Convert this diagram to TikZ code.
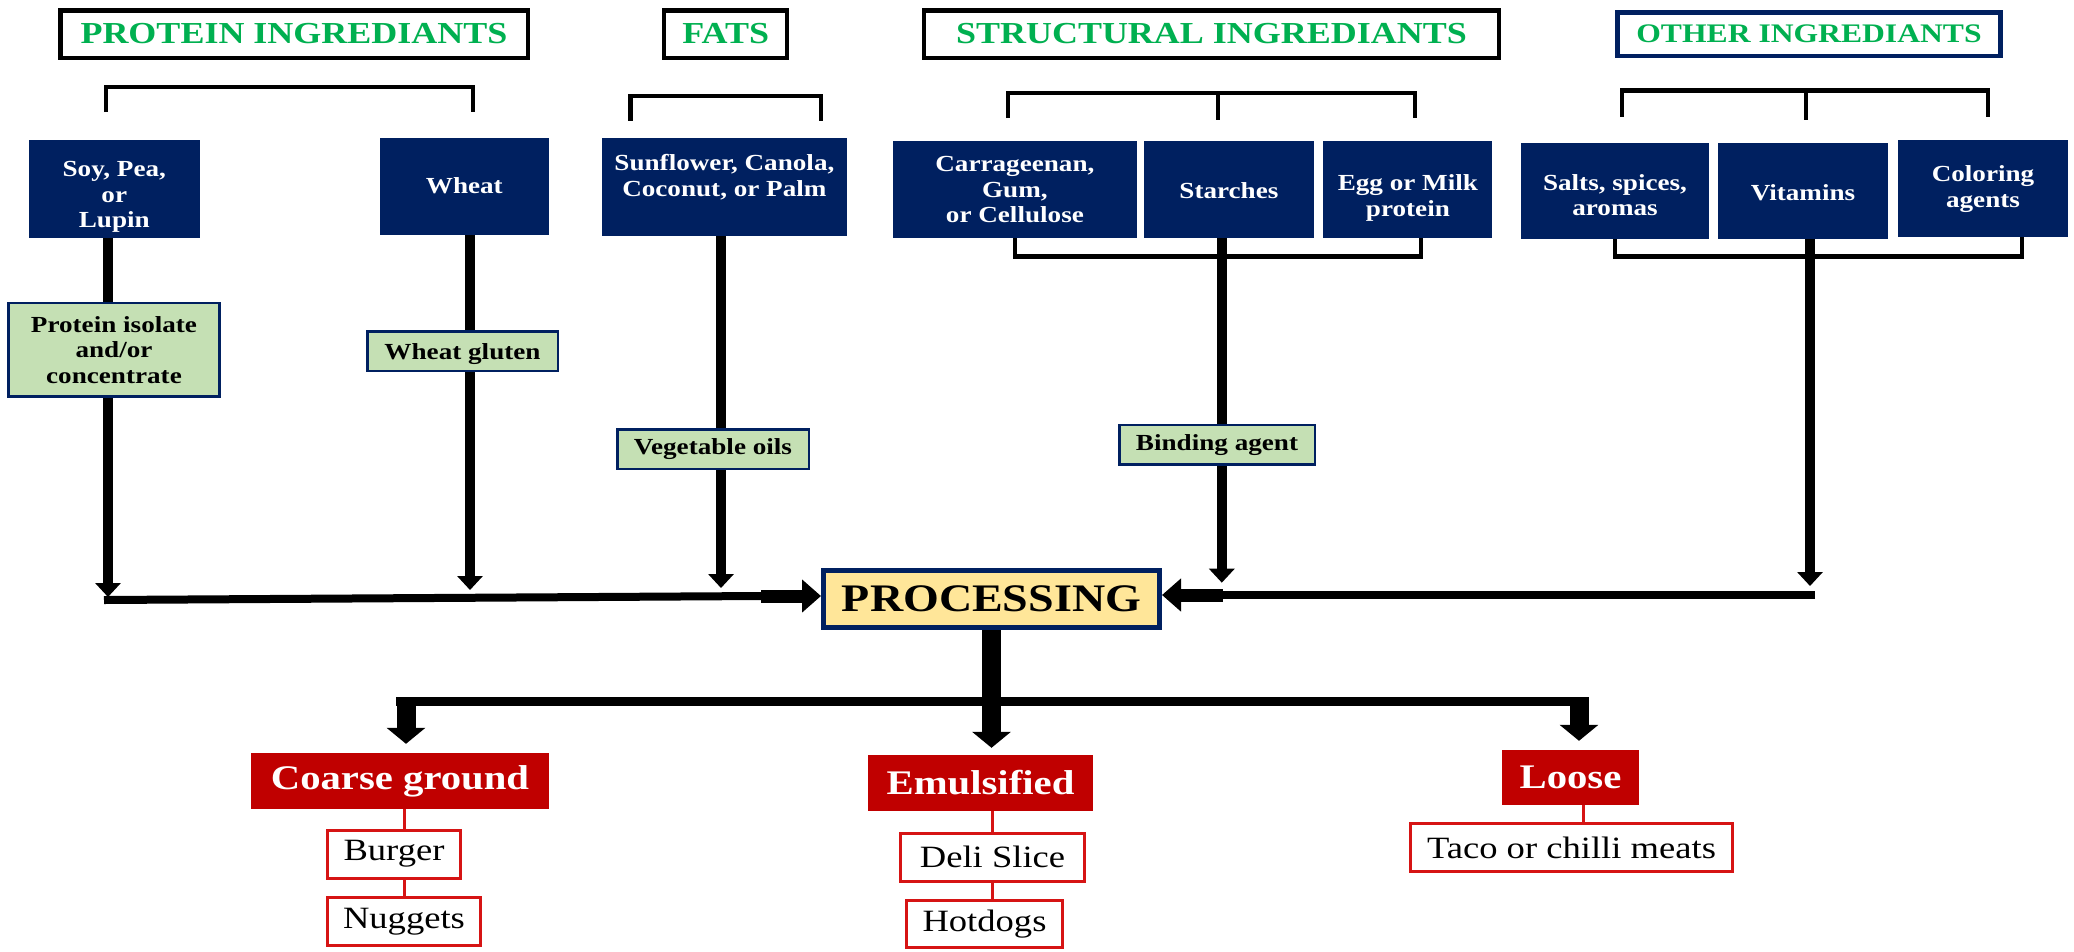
\documentclass[tikz,border=0pt]{standalone}
\usepackage{fontspec}
\setmainfont{Liberation Serif}[FakeStretch=1.18]
\usetikzlibrary{arrows.meta,backgrounds}
\definecolor{navy}{RGB}{0,32,96}
\definecolor{lgreen}{RGB}{197,224,180}
\definecolor{tgreen}{RGB}{0,176,80}
\definecolor{lyellow}{RGB}{255,230,153}
\definecolor{dred}{RGB}{192,0,0}
\definecolor{bred}{RGB}{214,20,20}
\newcommand\dnshift[2]{\raisebox{-#1}[\height][\depth]{\begin{tabular}{@{}c@{}}#2\end{tabular}}}
\begin{document}
\begin{tikzpicture}[x=1pt,y=-1pt,
  title/.style={draw=black, line width=4.5pt, fill=white, text=tgreen, inner sep=0pt,
    font=\bfseries\fontsize{30.5}{34}\selectfont, minimum height=47.5pt},
  ing/.style={fill=navy, text=white, align=center, inner sep=0pt,
    font=\bfseries\fontsize{23}{25.5}\selectfont},
  sub/.style={fill=lgreen, draw=navy, line width=2.5pt, text=black, align=center, inner sep=0pt,
    font=\bfseries\fontsize{23}{25.5}\selectfont},
  proc/.style={fill=lyellow, draw=navy, line width=5pt, text=black, inner sep=0pt,
    font=\bfseries\fontsize{39}{42}\selectfont},
  cat/.style={fill=dred, text=white, inner sep=0pt, font=\bfseries\fontsize{34.5}{38}\selectfont},
  prod/.style={draw=bred, line width=3pt, fill=white, text=black, inner sep=0pt,
    font=\fontsize{31}{34}\selectfont},
  brk/.style={line width=4.5pt, line join=miter},
  feed/.style={line width=10pt, -{Triangle[width=25pt,length=14pt]}},
  hline/.style={line width=8pt},
  block/.style={line width=13pt, -{Triangle[width=32pt,length=19pt]}},
  bigarrow/.style={line width=19pt, -{Triangle[width=38pt,length=16pt]}},
  rcon/.style={draw=bred, line width=3pt}
]
\useasboundingbox (0,0) rectangle (2074,951);

% titles
\node[title, minimum width=467.5pt] (tprot) at (294,34) {PROTEIN INGREDIANTS};
\node[title, minimum width=123pt] (tfat) at (725.7,34) {FATS};
\node[title, minimum width=575pt] (tstr) at (1211.5,34) {STRUCTURAL INGREDIANTS};
\node[title, draw=navy, minimum width=383pt, minimum height=43.5pt,
  font=\bfseries\fontsize{26.8}{30}\selectfont] (toth) at (1809,34) {OTHER INGREDIANTS};

% top brackets
\draw[brk] (106,112) -- (106,87) -- (473,87) -- (473,112);
\draw[brk] (630.5,120.5) -- (630.5,96) -- (821,96) -- (821,120.5);
\draw[brk] (1008,118) -- (1008,93) -- (1415,93) -- (1415,118);
\draw[brk] (1218,93) -- (1218,120);
\draw[brk] (1622,116.7) -- (1622,90.7) -- (1988,90.7) -- (1988,116.7);
\draw[brk] (1806,90.7) -- (1806,120);

% ingredient boxes
\node[ing, minimum width=170.6pt, minimum height=97.7pt] (soy) at (114.3,188.9) {\dnshift{8pt}{Soy, Pea,\\or\\Lupin}};
\node[ing, minimum width=169.5pt, minimum height=97.3pt] (wheat) at (464.3,186.4) {\dnshift{2pt}{Wheat}};
\node[ing, minimum width=245pt, minimum height=97.4pt] (sun) at (724.4,187) {\dnshift{-8.5pt}{Sunflower, Canola,\\Coconut, or Palm}};
\node[ing, minimum width=244pt, minimum height=97pt] (carr) at (1014.9,189.2) {\dnshift{3pt}{Carrageenan,\\Gum,\\or Cellulose}};
\node[ing, minimum width=169.3pt, minimum height=97pt] (starch) at (1228.9,189.2) {\dnshift{4pt}{Starches}};
\node[ing, minimum width=169pt, minimum height=97pt] (egg) at (1407.9,189.2) {\dnshift{9pt}{Egg or Milk\\protein}};
\node[ing, minimum width=187.8pt, minimum height=96.3pt] (salt) at (1615,190.8) {\dnshift{7pt}{Salts, spices,\\aromas}};
\node[ing, minimum width=170pt, minimum height=96.3pt] (vit) at (1803,190.8) {\dnshift{5pt}{Vitamins}};
\node[ing, minimum width=170pt, minimum height=97pt] (col) at (1983,188.5) {\dnshift{1pt}{Coloring\\agents}};

% sub boxes
\node[sub, minimum width=211pt, minimum height=93.5pt] (piso) at (114,349.7) {Protein isolate\\and/or\\concentrate};
\node[sub, minimum width=190.5pt, minimum height=39.5pt] (wglu) at (462.5,351) {\dnshift{3pt}{Wheat gluten}};
\node[sub, minimum width=191.5pt, minimum height=39.5pt] (voil) at (713,449) {Vegetable oils};
\node[sub, minimum width=195.5pt, minimum height=39.5pt] (bind) at (1217,444.6) {Binding agent};

% processing
\node[proc, minimum width=336pt, minimum height=57pt] (proc) at (991.5,599) {PROCESSING};

% categories and products
\node[cat, minimum width=297.6pt, minimum height=56pt] (coarse) at (400,781) {Coarse ground};
\node[cat, minimum width=225pt, minimum height=56pt] (emul) at (980.5,783) {Emulsified};
\node[cat, minimum width=137pt, minimum height=55.4pt] (loose) at (1570.5,777.3) {Loose};
\node[prod, minimum width=132.6pt, minimum height=48pt] (burger) at (394,854) {Burger};
\node[prod, minimum width=153.6pt, minimum height=48pt] (nug) at (404,921.5) {Nuggets};
\node[prod, minimum width=184pt, minimum height=48pt] (deli) at (992.5,857) {Deli Slice};
\node[prod, minimum width=156pt, minimum height=47pt] (hot) at (984.5,924) {Hotdogs};
\node[prod, minimum width=322pt, minimum height=48pt] (taco) at (1571.5,847.5) {Taco or chilli meats};

% junction coordinates
\coordinate (soyE) at (108,597);
\coordinate (wheE) at (470,590);
\coordinate (sunE) at (721,588);
\coordinate (staE) at (1221.8,582.7);
\coordinate (othE) at (1810,586);
\coordinate (lJ) at (104,600);
\coordinate (lB) at (761,596);
\coordinate (rJ) at (1815,595);
\coordinate (rB) at (1222.6,595);
\coordinate (hL) at (396,701);
\coordinate (hR) at (1588,701);
\coordinate (cL) at (406,697);
\coordinate (cR) at (1579,697);

\begin{pgfonlayer}{background}
  \draw[feed] (soy.south -| soyE) -- (soyE);
  \draw[feed] (wheat.south -| wheE) -- (wheE);
  \draw[feed] (sun.south -| sunE) -- (sunE);
  \draw[feed] (starch.south -| staE) -- (staE);
  \draw[feed] (vit.south -| othE) -- (othE);
  % bottom brackets
  \draw[brk] (carr.south) -- (1014.9,256.7) -- (1421,256.7) -- (1421,237.7);
  \draw[brk] (salt.south) -- (1615,256.7) -- (2022,256.7) -- (2022,237);
\end{pgfonlayer}

\draw[hline] (lJ) -- (lB);
\draw[block] (lB) -- (lB -| proc.west);
\draw[hline] (rJ) -- (rB);
\draw[block] (rB) -- (rB -| proc.east);

\draw[bigarrow, shorten >=7pt] (proc.south) -- (proc.south |- emul.north);
\draw[line width=9pt] (hL) -- (hR);
\draw[bigarrow, shorten >=9pt] (cL) -- (cL |- coarse.north);
\draw[bigarrow, shorten >=8.6pt] (cR) -- (cR |- loose.north);

\draw[rcon] (coarse.south -| 404.8,0) -- (burger.north -| 404.8,0);
\draw[rcon] (burger.south -| 404.8,0) -- (nug.north -| 404.8,0);
\draw[rcon] (emul.south -| 992,0) -- (deli.north -| 992,0);
\draw[rcon] (deli.south -| 992,0) -- (hot.north -| 992,0);
\draw[rcon] (loose.south -| 1583,0) -- (taco.north -| 1583,0);
\end{tikzpicture}
\end{document}
